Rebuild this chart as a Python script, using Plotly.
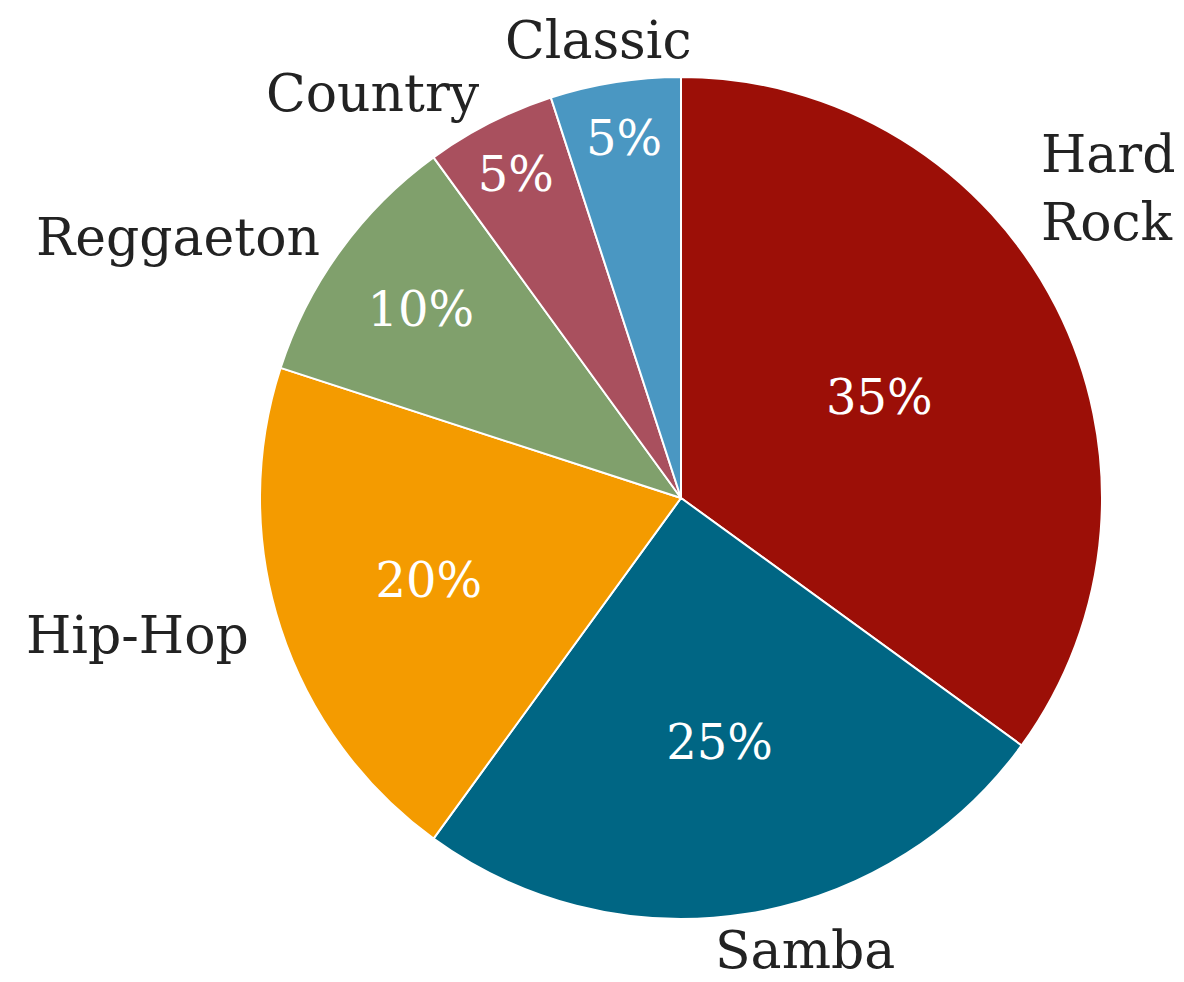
import plotly.graph_objects as go

genres = ["Hard Rock", "Samba", "Hip-Hop", "Reggaeton", "Country", "Classic"]
label_text = ["Hard<br>Rock", "Samba", "Hip-Hop", "Reggaeton", "Country", "Classic"]
shares = [35, 25, 20, 10, 5, 5]
colors = ["#9C0F07", "#006684", "#F49B00", "#80A06C", "#A9505E", "#4A97C2"]

# where each category name sits (pixel centre of the text block)
label_pos = [(1108, 188), (805, 950), (137, 635), (178, 237), (373, 93), (598, 40)]

W, H = 1184, 982
cx, cy, r = 681, 498, 421
dom_x = [(cx - r) / W, (cx + r) / W]
dom_y = [1 - (cy + r) / H, 1 - (cy - r) / H]

FONT = "DejaVu Serif"

fig = go.Figure()
fig.add_trace(go.Pie(
    labels=genres, values=shares, sort=False, direction="clockwise", rotation=0,
    marker=dict(colors=colors, line=dict(color="white", width=2)),
    texttemplate="%{percent:.0%}", textposition="inside",
    insidetextorientation="horizontal",
    textfont=dict(family=FONT, size=48, color="white"),
    domain=dict(x=dom_x, y=dom_y), showlegend=False,
))

for txt, (px, py) in zip(label_text, label_pos):
    fig.add_annotation(
        text=txt, xref="paper", yref="paper", x=px / W, y=1 - py / H,
        xanchor="center", yanchor="middle", align="left", showarrow=False,
        font=dict(family=FONT, size=52, color="#222222"),
    )

fig.update_layout(
    width=W, height=H, margin=dict(l=0, r=0, t=0, b=0),
    paper_bgcolor="white", plot_bgcolor="white",
)
fig.write_html("out.html")
